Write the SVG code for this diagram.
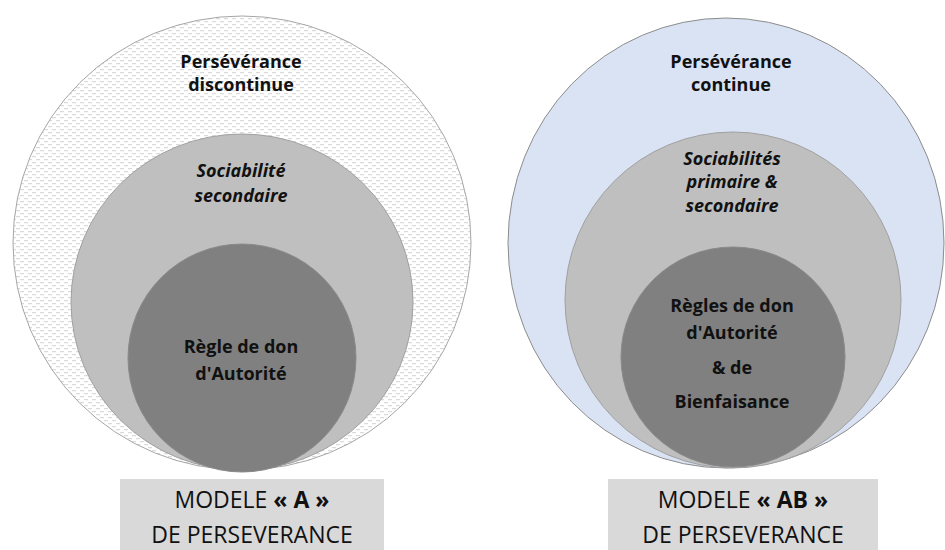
<svg xmlns="http://www.w3.org/2000/svg" width="945" height="550" viewBox="0 0 945 550">
<defs>
<pattern id="dash" x="0" y="0" width="8" height="6" patternUnits="userSpaceOnUse">
<rect width="8" height="6" fill="#ffffff"/>
<rect x="0" y="0" width="4" height="1.2" fill="#dadada"/>
<rect x="4" y="3" width="4" height="1.2" fill="#dadada"/>
</pattern>
<style>
.outerA{fill:url(#dash);stroke:#a6a6a6;stroke-width:1}
.outerB{fill:#dae3f3;stroke:#8c8c8c;stroke-width:1}
.mid{fill:#bfbfbf;stroke:#a0a0a0;stroke-width:1}
.inner{fill:#808080;stroke:#8a8a8a;stroke-width:1}
.t{font-family:"Open Sans","Liberation Sans",sans-serif;font-weight:bold;font-size:18px;fill:#111;text-anchor:middle}
.ti{font-family:"Open Sans","Liberation Sans",sans-serif;font-weight:bold;font-style:italic;font-size:18px;fill:#111;text-anchor:middle}
.box{fill:#d9d9d9}
.lb{font-family:"Open Sans","Liberation Sans",sans-serif;font-size:23px;fill:#111;text-anchor:middle}
</style>
</defs>
<g id="modelA">
<g id="a-outer"><ellipse class="outerA" cx="242" cy="243" rx="229" ry="227"/>
<text class="t" x="241" y="68">Persévérance</text>
<text class="t" x="241" y="91">discontinue</text></g>
<g id="a-mid"><ellipse class="mid" cx="242" cy="302" rx="171" ry="168"/>
<text class="ti" x="241" y="177">Sociabilité</text>
<text class="ti" x="241" y="202">secondaire</text></g>
<g id="a-inner"><ellipse class="inner" cx="242" cy="358" rx="114" ry="114"/>
<text class="t" x="241" y="353">Règle de don</text>
<text class="t" x="241" y="380">d'Autorité</text></g>
<g id="a-label"><rect class="box" x="120" y="479" width="264" height="71"/>
<text class="lb" x="252" y="508">MODELE <tspan font-weight="bold">« A »</tspan></text>
<text class="lb" x="252" y="543">DE PERSEVERANCE</text></g>
</g>
<g id="modelB">
<g id="b-outer"><ellipse class="outerB" cx="726" cy="243" rx="218" ry="225"/>
<text class="t" x="731" y="68">Persévérance</text>
<text class="t" x="731" y="91">continue</text></g>
<g id="b-mid"><ellipse class="mid" cx="733" cy="300" rx="168" ry="168"/>
<text class="ti" x="732" y="165">Sociabilités</text>
<text class="ti" x="732" y="188">primaire &amp;</text>
<text class="ti" x="732" y="212">secondaire</text></g>
<g id="b-inner"><ellipse class="inner" cx="733" cy="357" rx="112" ry="110"/>
<text class="t" x="732" y="312">Règles de don</text>
<text class="t" x="732" y="339">d'Autorité</text>
<text class="t" x="732" y="374">&amp; de</text>
<text class="t" x="732" y="408">Bienfaisance</text></g>
<g id="b-label"><rect class="box" x="608" y="479" width="270" height="71"/>
<text class="lb" x="743" y="508">MODELE <tspan font-weight="bold">« AB »</tspan></text>
<text class="lb" x="743" y="543">DE PERSEVERANCE</text></g>
</g>
<g id="connectors"/>
</svg>
